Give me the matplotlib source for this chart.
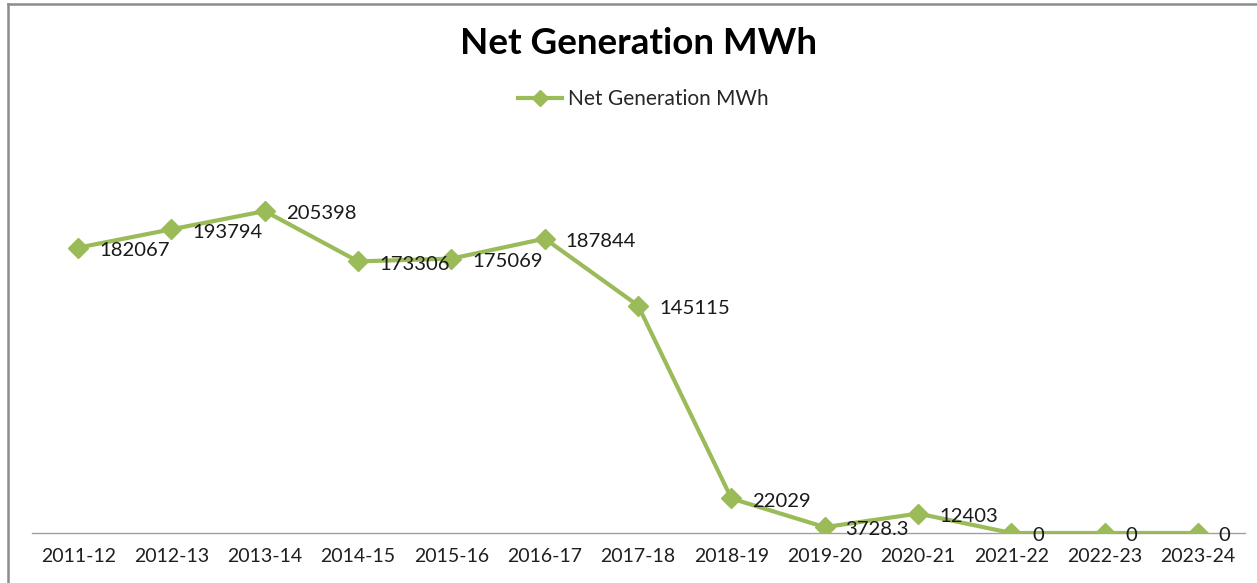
import matplotlib
matplotlib.use("Agg")
import matplotlib.pyplot as plt
from matplotlib.lines import Line2D

years = ["2011-12", "2012-13", "2013-14", "2014-15", "2015-16", "2016-17", "2017-18",
         "2018-19", "2019-20", "2020-21", "2021-22", "2022-23", "2023-24"]
net_generation = [182067, 193794, 205398, 173306, 175069, 187844, 145115,
                  22029, 3728.3, 12403, 0, 0, 0]
series_name = "Net Generation MWh"
title = "Net Generation MWh"

plt.rcParams['font.family'] = ['Lato', 'DejaVu Sans']
green = "#9BBB59"
W, H = 1257, 583
fig = plt.figure(figsize=(W / 100, H / 100), dpi=100)
ax = fig.add_axes([31.5 / W, (H - 533) / H, (1244.7 - 31.5) / W, (533 - 141.2) / H])

x = list(range(len(years)))
ax.plot(x, net_generation, color=green, lw=3.0, marker='D', markersize=10,
        markerfacecolor=green, markeredgecolor=green, label=series_name, zorder=3)

for xi, v in zip(x, net_generation):
    lbl = f"{v:g}" if v != int(v) else f"{int(v)}"
    ax.annotate(lbl, (xi, v), xytext=(15, -2), textcoords='offset points',
                ha='left', va='center', fontsize=14.6, color='#1a1a1a', zorder=4)

ax.set_xlim(-0.5, len(years) - 0.5)
ax.set_ylim(0, 250000)
ax.set_xticks(x)
ax.set_xticklabels(years, fontsize=14, color='#1f1f1f')
ax.tick_params(axis='x', length=0, pad=11)
ax.set_yticks([])
for s in ['top', 'right', 'left']:
    ax.spines[s].set_visible(False)
ax.spines['bottom'].set_color('#a0a0a0')
ax.spines['bottom'].set_linewidth(1.0)
ax.spines['bottom'].set_zorder(2)
ax.patch.set_alpha(0)

fig.text(639 / W, 1 - 44 / H, title, ha='center', va='center', fontsize=26.5,
         fontweight='bold', color='black')
fig.legend(loc='center', bbox_to_anchor=(643 / W, 1 - 99 / H), frameon=False,
           fontsize=15, handlelength=2.15, handletextpad=0.25, labelcolor='#262626',
           markerscale=0.85)

# chart border (left and top visible)
fig.add_artist(Line2D([8 / W, 8 / W], [0, 1 - 4 / H], transform=fig.transFigure,
                      color='#8c8c8c', lw=1.8))
fig.add_artist(Line2D([8 / W, 1], [1 - 4 / H, 1 - 4 / H], transform=fig.transFigure,
                      color='#8c8c8c', lw=1.8))

fig.savefig("out.png", dpi=100, facecolor='white')
